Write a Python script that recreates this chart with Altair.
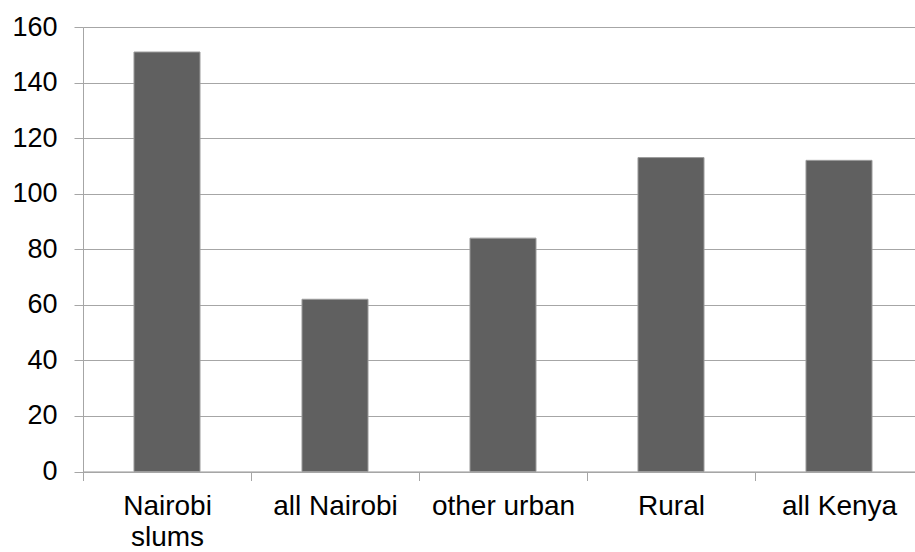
import altair as alt
import pandas as pd

# Bar values by area
categories = ["Nairobi slums", "all Nairobi", "other urban", "Rural", "all Kenya"]
values = [151, 62, 84, 113, 112]
y_ticks = [0, 20, 40, 60, 80, 100, 120, 140, 160]

df = pd.DataFrame({"area": categories, "value": values})

GRID = "#a6a6a6"
FONT = "Liberation Sans"
STEP = 168  # width of one category slot in pixels

chart = (
    alt.Chart(df)
    .mark_bar(color="#606060", stroke="#9c9c9c", strokeWidth=1)
    .encode(
        x=alt.X(
            "area:N",
            sort=categories,
            title=None,
            scale=alt.Scale(range=[0, 5 * STEP], paddingInner=0.607, paddingOuter=0.3035),
            axis=alt.Axis(
                labelAngle=0,
                labelFont=FONT,
                labelFontSize=28,
                labelColor="#000000",
                labelPadding=12,
                labelLimit=400,
                labelLineHeight=31,
                labelExpr="datum.label == 'Nairobi slums' ? split(datum.label, ' ') : datum.label",
                ticks=True,
                tickOffset=-STEP / 2,
                labelOffset=STEP / 2,
                tickSize=9,
                tickWidth=1,
                tickColor=GRID,
                domainColor=GRID,
                grid=False,
            ),
        ),
        y=alt.Y(
            "value:Q",
            title=None,
            scale=alt.Scale(domain=[0, 160], nice=False),
            axis=alt.Axis(
                values=y_ticks,
                labelFont=FONT,
                labelFontSize=27,
                labelColor="#000000",
                labelPadding=17,
                tickSize=9,
                tickColor=GRID,
                domainColor=GRID,
                gridColor=GRID,
                gridOpacity=1,
            ),
        ),
    )
    .properties(
        width=832,
        height=444.5,
        autosize=alt.AutoSizeParams(type="none"),
        padding={"left": 83, "top": 27, "right": 0, "bottom": 80},
    )
    .configure_view(stroke=None)
    .configure(background="white")
)

chart.save("out.html", embed_options={"renderer": "svg", "actions": False})
